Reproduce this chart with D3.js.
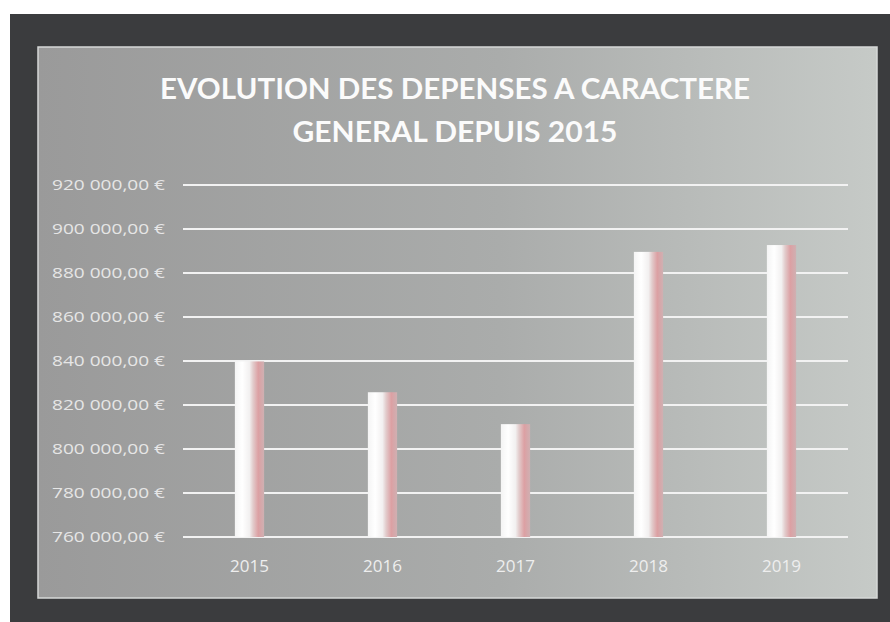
<!DOCTYPE html>
<html>
<head>
<meta charset="utf-8">
<script src="https://cdn.jsdelivr.net/npm/d3@7"></script>
<style>
  html, body { margin: 0; padding: 0; background: #fff; }
  svg { display: block; }
</style>
</head>
<body>
<svg id="chart" width="890" height="622"></svg>
<script>
// data
const years = ["2015", "2016", "2017", "2018", "2019"];
const depenses = [839800, 825800, 811300, 889600, 892700];
const yTicks = [760000, 780000, 800000, 820000, 840000, 860000, 880000, 900000, 920000];
const titleLines = ["EVOLUTION DES DEPENSES A CARACTERE", "GENERAL DEPUIS 2015"];

const svg = d3.select("#chart");
const defs = svg.append("defs");

// panel background: darker on the left, lighter on the right
const bg = defs.append("linearGradient").attr("id", "bg")
    .attr("x1", "0%").attr("y1", "0%").attr("x2", "100%").attr("y2", "0%");
bg.append("stop").attr("offset", "0%").attr("stop-color", "#9a9a9a");
bg.append("stop").attr("offset", "55%").attr("stop-color", "#aaacab");
bg.append("stop").attr("offset", "100%").attr("stop-color", "#c6cac7");

// bar fill: white on the left, pink on the right
const barGrad = defs.append("linearGradient").attr("id", "bar")
    .attr("x1", "0%").attr("y1", "0%").attr("x2", "100%").attr("y2", "0%");
barGrad.append("stop").attr("offset", "0%").attr("stop-color", "#f4f4f4");
barGrad.append("stop").attr("offset", "25%").attr("stop-color", "#ffffff");
barGrad.append("stop").attr("offset", "50%").attr("stop-color", "#f2f0f0");
barGrad.append("stop").attr("offset", "62%").attr("stop-color", "#e2cccc");
barGrad.append("stop").attr("offset", "80%").attr("stop-color", "#dca0a3");
barGrad.append("stop").attr("offset", "100%").attr("stop-color", "#cfb0b2");

// dark frame around the chart
svg.append("rect").attr("x", 10).attr("y", 14).attr("width", 880).attr("height", 608)
    .attr("fill", "#3b3c3e");
svg.append("rect").attr("x", 38).attr("y", 47).attr("width", 839).attr("height", 551)
    .attr("fill", "url(#bg)").attr("stroke", "#d6d8d7").attr("stroke-width", 1.5);

// title
svg.append("g").selectAll("text")
    .data(titleLines)
    .join("text")
    .attr("x", 455)
    .attr("y", (d, i) => 99 + i * 43)
    .attr("text-anchor", "middle")
    .attr("font-family", "Lato, 'Open Sans', sans-serif")
    .attr("font-weight", "bold")
    .attr("font-size", 28)
    .attr("fill", "#fbfbfb")
    .attr("textLength", (d, i) => i === 0 ? 590 : 325)
    .attr("lengthAdjust", "spacingAndGlyphs")
    .text(d => d);

const margin = { left: 183, right: 848, top: 185, bottom: 537 };

const x = d3.scaleBand()
    .domain(years)
    .range([margin.left, margin.right])
    .paddingInner(0.78)
    .paddingOuter(0.39);

const y = d3.scaleLinear()
    .domain([760000, 920000])
    .range([margin.bottom, margin.top]);

const fmt = v => d3.format(",.2f")(v).replace(/,/g, " ").replace(".", ",") + " €";

// gridlines
svg.append("g").selectAll("line")
    .data(yTicks)
    .join("line")
    .attr("x1", margin.left).attr("x2", margin.right)
    .attr("y1", d => y(d)).attr("y2", d => y(d))
    .attr("stroke", "#f2f2f2")
    .attr("stroke-width", 2);

// y axis labels
const yAxis = svg.append("g")
    .attr("transform", `translate(${margin.left - 18},0)`)
    .call(d3.axisLeft(y).tickValues(yTicks).tickFormat(fmt).tickSize(0).tickPadding(0));
yAxis.select(".domain").remove();
yAxis.selectAll("text")
    .attr("font-family", "'Open Sans', sans-serif")
    .attr("font-size", 14)
    .attr("fill", "#e6e6e6")
    .attr("textLength", 113)
    .attr("lengthAdjust", "spacingAndGlyphs");

// bars
svg.append("g").selectAll("rect")
    .data(depenses)
    .join("rect")
    .attr("x", (d, i) => x(years[i]))
    .attr("y", d => y(d))
    .attr("width", x.bandwidth())
    .attr("height", d => y(760000) - y(d))
    .attr("fill", "url(#bar)");

// x axis labels
const xAxis = svg.append("g")
    .attr("transform", `translate(0,${margin.bottom + 23})`)
    .call(d3.axisBottom(x).tickSize(0).tickPadding(0));
xAxis.select(".domain").remove();
xAxis.selectAll("text")
    .attr("font-family", "'Open Sans', sans-serif")
    .attr("font-size", 17)
    .attr("fill", "#eeeeee")
    .attr("textLength", 39)
    .attr("lengthAdjust", "spacingAndGlyphs");
</script>
</body>
</html>
